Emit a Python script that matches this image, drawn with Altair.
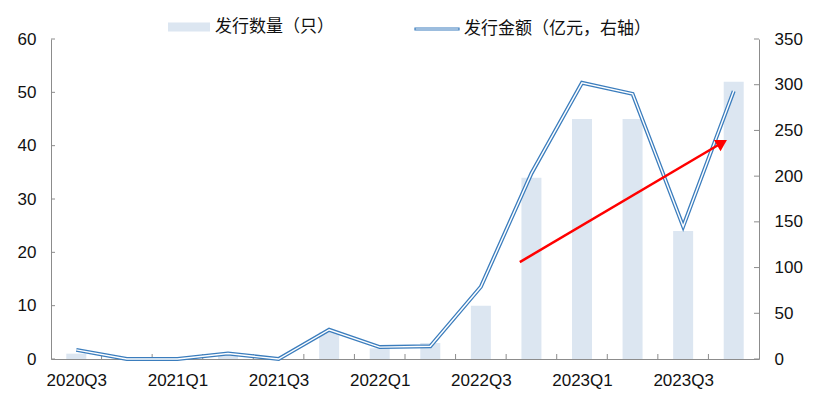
import altair as alt
import pandas as pd

# ---- data ----
quarters = ["2020Q3", "2020Q4", "2021Q1", "2021Q2", "2021Q3", "2021Q4", "2022Q1",
            "2022Q2", "2022Q3", "2022Q4", "2023Q1", "2023Q2", "2023Q3", "2023Q4"]
issue_count = [1, 0, 0, 1, 0, 5, 2, 3, 10, 34, 45, 45, 24, 52]          # 发行数量（只）
issue_amount = [10, 0, 0, 6, 0, 32, 13, 14, 79, 203, 302, 290, 145, 293]  # 发行金额（亿元）
left_ticks = [0, 10, 20, 30, 40, 50, 60]
right_ticks = [0, 50, 100, 150, 200, 250, 300, 350]
arrow_x = [8.77, 12.77]     # trend arrow, in quarter-index units
arrow_y = [106, 236.5]      # trend arrow, in right-axis units
bar_name = "发行数量（只）"
line_name = "发行金额（亿元，右轴）"

df = pd.DataFrame({"idx": list(range(len(quarters))), "quarter": quarters,
                   "count": issue_count, "amount": issue_amount,
                   "bs": [bar_name] * len(quarters), "ls": [line_name] * len(quarters)})
bounds_df = pd.DataFrame({"pos": [i + 0.5 for i in range(len(quarters) - 1)]})
lt_df = pd.DataFrame({"v": left_ticks})
rt_df = pd.DataFrame({"v": right_ticks})
arrow_df = pd.DataFrame({"ax": arrow_x, "ay": arrow_y, "o": [0, 1]})
head_df = arrow_df.tail(1)

W, H = 708, 320
AX = "#8c8c8c"
LBL = "#111111"
NUMFONT = "Liberation Sans"
CJK = "Noto Sans CJK SC"

xscale = alt.Scale(domain=[-0.5, len(quarters) - 0.5], nice=False, zero=False, padding=0)
label_expr = "[" + ",".join("'%s'" % q for q in quarters) + "][datum.value]"
xaxis = alt.Axis(values=list(range(0, len(quarters), 2)), labelExpr=label_expr,
                 ticks=False, tickSize=0, domainColor=AX, labelPadding=13, grid=False,
                 title=None, labelFontSize=17, labelFont=NUMFONT, labelColor=LBL,
                 labelFlush=False)
lscale = alt.Scale(domain=[0, 60], nice=False, zero=True, padding=0)
laxis = alt.Axis(values=left_ticks, ticks=False, tickSize=0, domainColor=AX,
                 labelPadding=15, grid=False, title=None, labelFontSize=17,
                 labelFont=NUMFONT, labelColor=LBL)
rscale = alt.Scale(domain=[0, 350], nice=False, zero=True, padding=0)
raxis = alt.Axis(orient="right", values=right_ticks, ticks=False, tickSize=0,
                 domainColor=AX, labelPadding=15, grid=False, title=None,
                 labelFontSize=17, labelFont=NUMFONT, labelColor=LBL)

bars = alt.Chart(df).mark_bar(size=20).encode(
    x=alt.X("idx:Q", scale=xscale, axis=xaxis),
    y=alt.Y("count:Q", scale=lscale, axis=laxis),
    fill=alt.Fill("bs:N",
                  scale=alt.Scale(domain=[bar_name], range=["#dce6f1"]),
                  legend=alt.Legend(orient="none", legendX=117, legendY=-33,
                                    title=None, padding=0, labelLimit=400,
                                    symbolType="M-1,-0.214L1,-0.214L1,0.214L-1,0.214Z",
                                    symbolSize=1764, symbolStrokeWidth=0,
                                    labelFont=CJK, labelFontSize=17,
                                    labelColor=LBL, labelOffset=5)),
)
xticks = alt.Chart(bounds_df).mark_rule(color=AX, strokeWidth=1).encode(
    x=alt.X("pos:Q", scale=xscale, axis=xaxis),
    y=alt.value(H - 5), y2=alt.value(H),
)
lticks = alt.Chart(lt_df).mark_rule(color=AX, strokeWidth=1).encode(
    y=alt.Y("v:Q", scale=lscale, axis=laxis),
    x=alt.value(0), x2=alt.value(4),
)

thick = alt.Chart(df).mark_line(strokeWidth=4).encode(
    x=alt.X("idx:Q", scale=xscale, axis=xaxis),
    y=alt.Y("amount:Q", scale=rscale, axis=raxis),
    stroke=alt.Stroke("ls:N",
                      scale=alt.Scale(domain=[line_name], range=["#3b7dbd"]),
                      legend=alt.Legend(orient="none", legendX=363, legendY=-33,
                                        title=None, padding=0, labelLimit=400,
                                        symbolType="M-1,-0.045L1,-0.045L1,0.045L-1,0.045Z",
                                        symbolSize=1936, symbolFillColor="white",
                                        symbolStrokeWidth=1.2,
                                        labelFont=CJK, labelFontSize=17,
                                        labelColor=LBL, labelOffset=4)),
)
inner = alt.Chart(df).mark_line(strokeWidth=1.4, color="white").encode(
    x=alt.X("idx:Q", scale=xscale, axis=xaxis),
    y=alt.Y("amount:Q", scale=rscale, axis=raxis),
)
arrow_line = alt.Chart(arrow_df).mark_line(color="#ff0000", strokeWidth=2.5).encode(
    x=alt.X("ax:Q", scale=xscale, axis=xaxis),
    y=alt.Y("ay:Q", scale=rscale, axis=raxis),
    order="o:Q",
)
arrow_head = alt.Chart(head_df).mark_point(shape="triangle-up", filled=True,
                                           color="#ff0000", opacity=1, size=169,
                                           angle=59.5).encode(
    x=alt.X("ax:Q", scale=xscale, axis=xaxis),
    y=alt.Y("ay:Q", scale=rscale, axis=raxis),
)
rticks = alt.Chart(rt_df).mark_rule(color=AX, strokeWidth=1).encode(
    y=alt.Y("v:Q", scale=rscale, axis=raxis),
    x=alt.value(W - 5), x2=alt.value(W),
)

left = alt.layer(bars, xticks, lticks)
right = alt.layer(thick, inner, arrow_line, arrow_head, rticks)

chart = alt.layer(left, right).resolve_scale(y="independent").properties(
    width=W, height=H,
    autosize=alt.AutoSizeParams(type="none"),
    padding={"left": 43, "top": 31, "right": 49, "bottom": 35},
).configure_view(stroke=None).configure_axis(domainWidth=1)

chart.save("out.html", embed_options={"renderer": "svg", "actions": False})
